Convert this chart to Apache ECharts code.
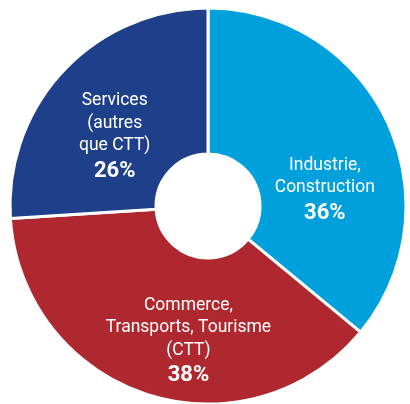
<!DOCTYPE html>
<html>
<head>
<meta charset="utf-8">
<script src="https://cdn.jsdelivr.net/npm/echarts@6/dist/echarts.min.js"></script>
<style>
  html, body { margin: 0; padding: 0; background: #fff; }
  #chart { width: 410px; height: 404px; }
</style>
</head>
<body>
<div id="chart"></div>
<script>
// secteurs, dans le sens horaire depuis le haut
var categories = ['Industrie,\nConstruction', 'Commerce,\nTransports, Tourisme\n(CTT)', 'Services\n(autres\nque CTT)'];
var values = [36, 38, 26];
var colors = ['#00a0dd', '#b0282f', '#1e3f8a'];
// décalage des étiquettes (px) par rapport à la position par défaut
var labelOffsets = [[1, 39], [20, 14], [0, 19]];

var chart = echarts.init(document.getElementById('chart'));

var data = [];
for (var i = 0; i < categories.length; i++) {
    data.push({
        name: categories[i],
        value: values[i],
        itemStyle: { color: colors[i] },
        label: { offset: labelOffsets[i] }
    });
}

var option = {
    animation: false,
    series: [{
        type: 'pie',
        center: [208, 206],
        radius: [52, 198],
        startAngle: 90,
        clockwise: true,
        itemStyle: {
            borderColor: '#fff',
            borderWidth: 3
        },
        label: {
            position: 'inside',
            color: '#fff',
            fontFamily: 'Roboto',
            fontSize: 17.5,
            lineHeight: 22.5,
            formatter: function (p) {
                return p.name + '\n{pct|' + p.value + '%}';
            },
            rich: {
                pct: {
                    fontFamily: 'Roboto',
                    fontWeight: 'bold',
                    fontSize: 22,
                    lineHeight: 28,
                    color: '#fff'
                }
            }
        },
        labelLine: { show: false },
        data: data
    }]
};
chart.setOption(option);
</script>
</body>
</html>
